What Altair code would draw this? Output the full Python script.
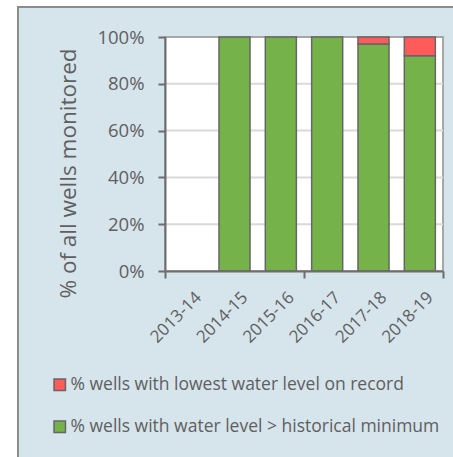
import altair as alt
import pandas as pd

# Monitoring years and the share of wells in each condition (%)
years = ["2013-14", "2014-15", "2015-16", "2016-17", "2017-18", "2018-19"]
above_min = [0, 100, 100, 100, 97, 92]
lowest_on_record = [0, 0, 0, 0, 3, 8]
y_ticks = [0, 20, 40, 60, 80, 100]
grid_levels = [20, 40, 60, 80]

LOW = "% wells with lowest water level on record"
ABOVE = "% wells with water level > historical minimum"

rows = []
for yr, a, l in zip(years, above_min, lowest_on_record):
    rows.append({"year": yr, "series": ABOVE, "value": a, "ord": 0})
    rows.append({"year": yr, "series": LOW, "value": l, "ord": 1})
df = pd.DataFrame(rows)

W, H = 278, 234
TEXT = "#5f5f5f"
AXIS = "#6d6d6d"
FONT = "Open Sans"

x_scale = alt.Scale(domain=years, paddingInner=0, paddingOuter=0)
y_scale = alt.Scale(domain=[0, 100], nice=False)

y_axis = alt.Axis(
    values=y_ticks,
    labelExpr="datum.value + '%'",
    labelFontSize=18.5,
    labelColor=TEXT,
    labelFont=FONT,
    labelPadding=14,
    tickSize=7,
    tickColor=AXIS,
    tickWidth=2,
    domainColor=AXIS,
    domainWidth=2,
    grid=False,
    titleFontSize=22.5,
    titleFontWeight="normal",
    titleColor=TEXT,
    titleFont=FONT,
    titleAngle=270,
    titleAlign="center",
    titleBaseline="middle",
    titleX=-97,
    titleY=136,
    zindex=1,
)
Y_TITLE = "% of all wells monitored"

# outer panel
frame = alt.Chart(alt.Data(values=[{"k": 1}])).mark_rect(
    fill="#d6e4ec", stroke="#8c8c8c", strokeWidth=2
).encode(x=alt.value(-147), x2=alt.value(320), y=alt.value(-30), y2=alt.value(440))

# white plot area
plot_bg = alt.Chart(alt.Data(values=[{"k": 1}])).mark_rect(
    fill="white", stroke="#a6a6a6", strokeWidth=2
).encode(x=alt.value(0), x2=alt.value(W), y=alt.value(0), y2=alt.value(H))

grid = alt.Chart(pd.DataFrame({"value": grid_levels})).mark_rule(
    color="#d9d9d9", strokeWidth=2
).encode(
    y=alt.Y("value:Q", scale=y_scale, title=Y_TITLE, axis=y_axis),
    x=alt.value(0),
    x2=alt.value(W),
)

bars = alt.Chart(df).transform_filter("datum.value > 0").mark_bar(
    width=alt.RelativeBandSize(0.67), stroke="#666666", strokeWidth=1.5
).encode(
    x=alt.X(
        "year:N",
        scale=x_scale,
        sort=years,
        title=None,
        axis=alt.Axis(
            orient="bottom",
            labelAngle=315,
            labelFontSize=17,
            labelColor=TEXT,
            labelFont=FONT,
            labelPadding=18,
            labelOffset=5,
            ticks=False,
            domainColor=AXIS,
            domainWidth=2,
            zindex=1,
        ),
    ),
    y=alt.Y("value:Q", stack="zero", scale=y_scale, title=Y_TITLE, axis=y_axis),
    color=alt.Color(
        "series:N",
        scale=alt.Scale(domain=[LOW, ABOVE], range=["#ff5b5b", "#76b24a"]),
        legend=alt.Legend(
            title=None,
            orient="none",
            legendX=-114,
            legendY=339,
            direction="vertical",
            symbolType="square",
            symbolSize=130,
            symbolStrokeColor="#666666",
            symbolStrokeWidth=1.5,
            labelFontSize=17.5,
            labelColor=TEXT,
            labelFont=FONT,
            labelOffset=2,
            rowPadding=23,
            labelLimit=500,
        ),
    ),
    order=alt.Order("ord:Q"),
)


def tick_layer(values, band_pos):
    """Invisible layer that only contributes tick marks on the category axis."""
    return alt.Chart(pd.DataFrame({"year": years})).mark_point(opacity=0).encode(
        x=alt.X(
            "year:N",
            scale=x_scale,
            sort=years,
            title=None,
            axis=alt.Axis(
                orient="bottom",
                values=values,
                bandPosition=band_pos,
                labels=False,
                domain=False,
                tickSize=7,
                tickColor=AXIS,
                tickWidth=2,
                zindex=1,
            ),
        ),
        y=alt.value(H / 2),
    )


ticks_start = tick_layer(["2013-14", "2016-17"], 0)
ticks_end = tick_layer(["2018-19"], 1)

chart = (
    alt.layer(frame, plot_bg, grid, bars, ticks_start, ticks_end)
    .resolve_axis(x="independent")
    .properties(
        width=W,
        height=H,
        autosize=alt.AutoSizeParams(type="none"),
        padding={"left": 165, "top": 37, "right": 10, "bottom": 186},
        background="white",
    )
    .configure_view(stroke=None)
)

chart.save("out.html", embed_options={"renderer": "svg", "actions": False})
